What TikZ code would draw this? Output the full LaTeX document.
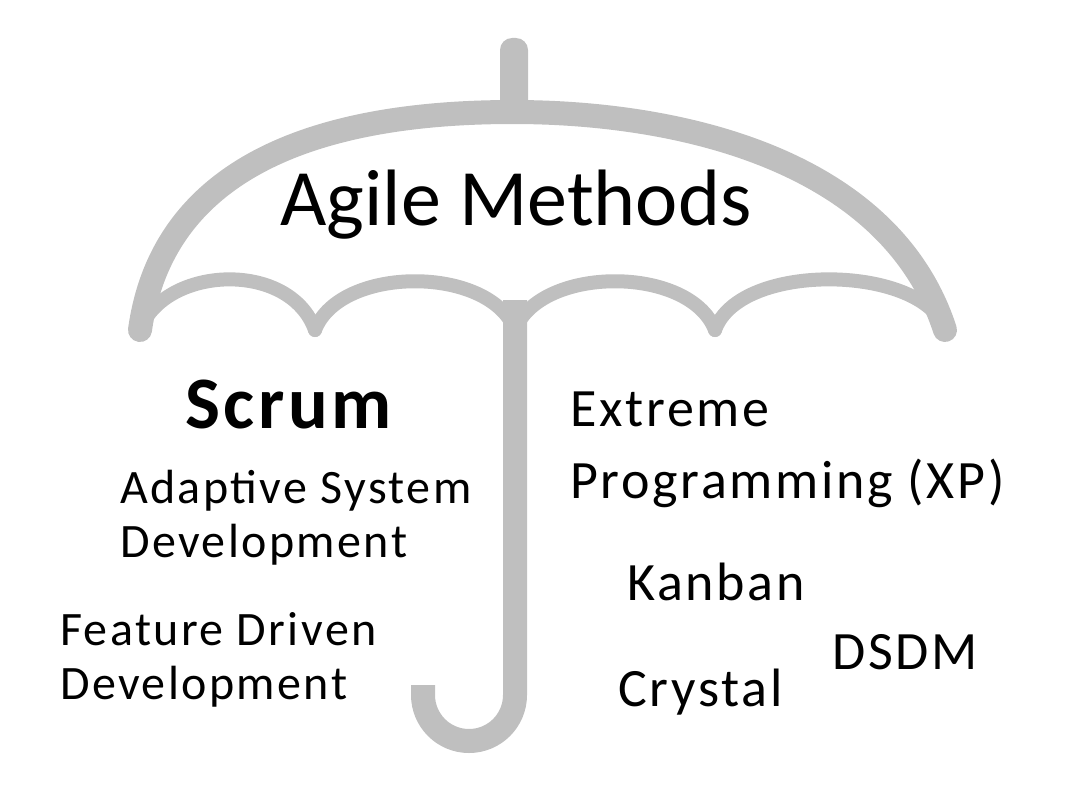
\documentclass[tikz,border=0pt]{standalone}
\usepackage{fontspec}
\setmainfont{Carlito}
\newfontfamily\spaced[LetterSpace=5]{Carlito}
\definecolor{umb}{gray}{0.75}
\begin{document}
\begin{tikzpicture}[x=1pt,y=-1pt,
  band/.style={draw=umb,line width=24pt,line cap=round},
  rib/.style={draw=umb,line width=14pt,line cap=round},
  lab/.style={anchor=west,align=left,inner sep=0pt,font=\spaced\fontsize{48}{54}\selectfont}]
\useasboundingbox (0,0) rectangle (1066,800);
\fill[umb,rounded corners=12pt] (500,38) rectangle (528,115);
\draw[band] (140,330) .. controls (165,150) and (350,112) .. (513,112) .. controls (680,112) and (890,160) .. (945,330);
\draw[rib] (140,330) .. controls (165,265) and (290,260) .. (315,330);
\draw[rib] (315,330) .. controls (340,265) and (490,265) .. (515,330);
\draw[rib] (515,330) .. controls (540,265) and (690,265) .. (715,330);
\draw[rib] (715,330) .. controls (740,260) and (925,265) .. (945,330);
\draw[band,line cap=butt] (515,300) -- (515,695) arc[start angle=0,end angle=180,radius=46] -- (423,685);
\node (title) at (516,205) {\fontsize{80}{82}\selectfont Agile Methods};
\node[lab,font=\spaced\fontsize{74}{80}\selectfont\bfseries] (scrum) at (185,405) {Scrum};
\node[lab] (asd) at (120,518) {Adaptive System\\Development};
\node[lab] (fdd) at (60,660) {Feature Driven\\Development};
\node[lab,font=\spaced\fontsize{54}{72}\selectfont] (xp) at (570,450) {Extreme\\Programming (XP)};
\node[lab,font=\spaced\fontsize{54}{56}\selectfont] (kan) at (627,582) {Kanban};
\node[lab,font=\spaced\fontsize{54}{56}\selectfont] (dsdm) at (832,652) {DSDM};
\node[lab,font=\spaced\fontsize{54}{56}\selectfont] (cry) at (618,692) {Crystal};
\end{tikzpicture}
\end{document}
